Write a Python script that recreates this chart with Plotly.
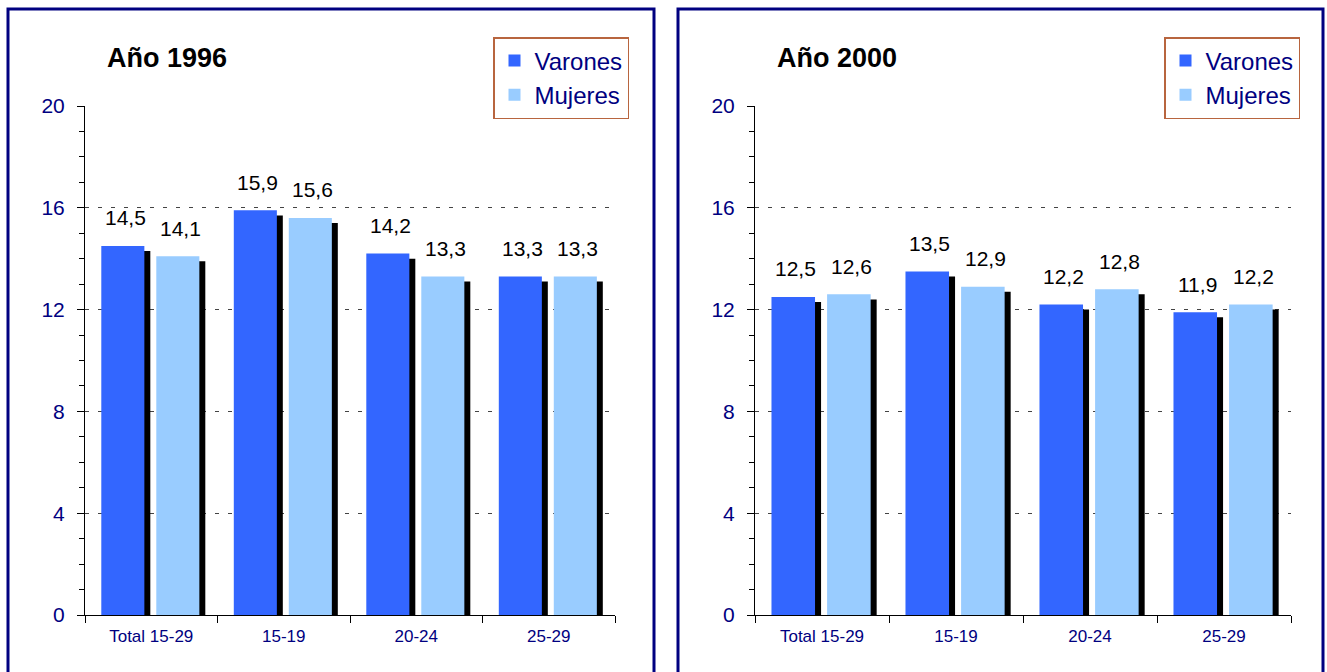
import plotly.graph_objects as go

# Datos
categorias = ['Total 15-29', '15-19', '20-24', '25-29']
varones_1996 = [14.5, 15.9, 14.2, 13.3]
mujeres_1996 = [14.1, 15.6, 13.3, 13.3]
varones_2000 = [12.5, 13.5, 12.2, 11.9]
mujeres_2000 = [12.6, 12.9, 12.8, 12.2]
titulos = ['Año 1996', 'Año 2000']

AZUL = '#3366FF'
CELESTE = '#99CCFF'
NAVY = '#000080'
FUENTE = 'Liberation Sans Narrow, Arial Narrow, Liberation Sans, Arial, sans-serif'

# geometria de las barras (en unidades de categoria)
ancho = 0.325
off_v = -0.377
off_m = 0.038
sombra_dx = 0.045
sombra_dy = 0.2

fig = go.Figure()


def fmt(v):
    return f'{v:.1f}'.replace('.', ',')


paneles = [
    ('x', 'y', 'legend', varones_1996, mujeres_1996),
    ('x2', 'y2', 'legend2', varones_2000, mujeres_2000),
]

for xa, ya, leg, var, muj in paneles:
    for vals, off, color, nombre in [(var, off_v, AZUL, 'Varones'), (muj, off_m, CELESTE, 'Mujeres')]:
        # sombra negra
        fig.add_trace(go.Bar(
            x=categorias, y=[v - sombra_dy for v in vals], offset=off + sombra_dx, width=ancho,
            marker=dict(color='black', line=dict(width=0)), showlegend=False,
            hoverinfo='skip', xaxis=xa, yaxis=ya))
        fig.add_trace(go.Bar(
            x=categorias, y=vals, offset=off, width=ancho, name=nombre,
            marker=dict(color=color, line=dict(width=0)), legend=leg,
            xaxis=xa, yaxis=ya))
        for i, v in enumerate(vals):
            fig.add_annotation(
                x=i + off + ancho / 2 + 0.02, y=v, xref=xa, yref=ya, text=fmt(v),
                showarrow=False, yanchor='middle', yshift=28,
                font=dict(family=FUENTE, size=21, color='black'))

eje_y = dict(
    range=[0, 20], dtick=4, tick0=0, showline=True, linecolor='black', linewidth=1,
    ticks='outside', ticklen=7, tickcolor='black',
    tickfont=dict(family=FUENTE, size=21, color=NAVY), ticklabelstandoff=8,
    showgrid=True, gridcolor='#444444', gridwidth=1, griddash='4px,9px',
    zeroline=False,
    minor=dict(dtick=1, ticks='outside', ticklen=5, tickcolor='black', showgrid=False),
)
eje_x = dict(
    type='category', range=[-0.5, 3.5], showline=True, linecolor='black', linewidth=1,
    ticks='outside', ticklen=7, tickcolor='black', tickson='boundaries',
    tickfont=dict(family=FUENTE, size=17, color=NAVY), showgrid=False,
    ticklabelstandoff=6,
)

W, H = 1327, 672
ley = dict(
    bgcolor='white', bordercolor='#B8653F', borderwidth=1.5,
    font=dict(family=FUENTE, size=24, color=NAVY),
    xanchor='left', yanchor='top', tracegroupgap=0, itemwidth=30,
)

fig.update_layout(
    width=W, height=H, margin=dict(l=0, r=0, t=0, b=0, autoexpand=False),
    paper_bgcolor='white', plot_bgcolor='white', barmode='overlay',
    xaxis=dict(eje_x, domain=[85 / W, 615 / W], anchor='y'),
    yaxis=dict(eje_y, domain=[57 / H, 566 / H], anchor='x'),
    xaxis2=dict(eje_x, domain=[755 / W, 1291 / W], anchor='y2'),
    yaxis2=dict(eje_y, domain=[57 / H, 566 / H], anchor='x2'),
    legend=dict(ley, x=493 / W, y=1 - 37 / H),
    legend2=dict(ley, x=1164 / W, y=1 - 37 / H),
)

# marcos de los paneles
for x0, x1 in [(8, 654), (678, 1323)]:
    fig.add_shape(type='rect', xref='paper', yref='paper',
                  x0=x0 / W, x1=x1 / W, y0=-0.05, y1=1 - 9 / H,
                  line=dict(color=NAVY, width=3))

for t, x in zip(titulos, [105, 775]):
    fig.add_annotation(x=x / W, y=1 - 58 / H, xref='paper', yref='paper', text=f'<b>{t}</b>',
                       showarrow=False, xanchor='left', yanchor='middle',
                       font=dict(family='Liberation Sans, Arial, sans-serif', size=27, color='black'))

fig.write_html('out.html', config={'displayModeBar': False},
               post_script="document.body.style.margin='0';")
